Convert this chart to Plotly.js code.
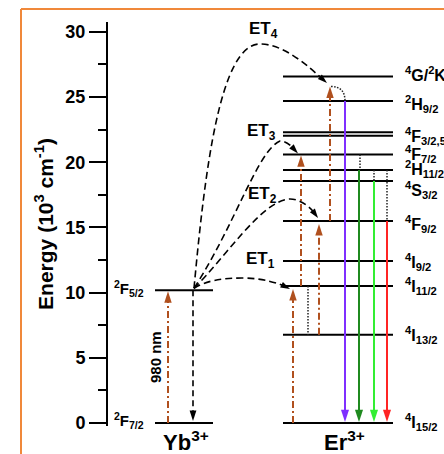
<!DOCTYPE html>
<html><head><meta charset="utf-8">
<script src="https://cdn.plot.ly/plotly-3.0.1.min.js"></script>
<style>html,body{margin:0;padding:0;background:#fff}#chart{width:444px;height:454px}</style>
</head><body><div id="chart"></div>
<script>
// ---------------- data (energies in 10^3 cm^-1) ----------------
const ybNames  = ['2F7/2', '2F5/2'];
const ybEnergy = [0, 10.18];
const ybLabels = ['<sup>2</sup>F<sub>7/2</sub>', '<sup>2</sup>F<sub>5/2</sub>'];

const erNames  = ['4I15/2','4I13/2','4I11/2','4I9/2','4F9/2','4S3/2','2H11/2','4F7/2','4F5/2','4F3/2','2H9/2','4G/2K'];
const erEnergy = [0, 6.77, 10.5, 12.42, 15.49, 18.56, 19.4, 20.6, 22.03, 22.29, 24.69, 26.57];
const erLabels = ['<sup>4</sup>I<sub>15/2</sub>','<sup>4</sup>I<sub>13/2</sub>','<sup>4</sup>I<sub>11/2</sub>',
  '<sup>4</sup>I<sub>9/2</sub>','<sup>4</sup>F<sub>9/2</sub>','<sup>4</sup>S<sub>3/2</sub>','<sup>2</sup>H<sub>11/2</sub>',
  '<sup>4</sup>F<sub>7/2</sub>','','<sup>4</sup>F<sub>3/2,5/2</sub>','<sup>2</sup>H<sub>9/2</sub>','<sup>4</sup>G/<sup>2</sup>K'];

const yTicks = [0, 5, 10, 15, 20, 25, 30];

const erPumps    = [['4I15/2','4I11/2'], ['4I11/2','4F7/2'], ['4I13/2','4F9/2'], ['4F9/2','4G/2K']];
const emissions  = [['2H9/2','4I15/2'], ['2H11/2','4I15/2'], ['4S3/2','4I15/2'], ['4F9/2','4I15/2']];
const nonRad     = [['4I11/2','4I13/2'], ['4F7/2','2H11/2'], ['2H11/2','4S3/2'], ['2H11/2','4F9/2']];
const etNames    = ['ET<sub>1</sub>','ET<sub>2</sub>','ET<sub>3</sub>','ET<sub>4</sub>'];
const etTargets  = ['4I11/2','4F9/2','4F7/2','4G/2K'];
const ionNames   = ['Yb<sup>3+</sup>', 'Er<sup>3+</sup>'];
const pumpLabel  = '980 nm';
const axisTitle  = 'Energy (10<sup>3</sup> cm<sup>-1</sup>)';

// ---------------- layout geometry (pixels) ----------------
const Y0 = 423, K = 13.04;                 // pixel row of 0, pixels per unit
const E = py => (Y0 - py) / K;             // pixel -> energy
const P = e => Y0 - e * K;                 // energy -> pixel
const ML = 108, MT = 22, MB = 28, W = 444, H = 454;
const paperX = px => (px - ML) / (W - ML);
const paperY = py => (H - MB - py) / (H - MB - MT);
const er = n => erEnergy[erNames.indexOf(n)];
const yb = n => ybEnergy[ybNames.indexOf(n)];

const ybX = [155, 213], erX = [283, 393];
const BROWN = '#b0501e';
const pumpX = [293, 301, 319, 330], pumpGap = [3, 1, 3, 10];
const emisX = [345, 359, 374, 387];
const emisColors = ['#7f2fff', '#1f8a1f', '#33ee33', '#ff2424'];
const nonRadX = [308, 360, 374, 387];
const labelShift = [1, 0, 0, -1, -3, -9, 1, 0, 0, -1.5, -2.5, 2.5];
const etGeom = [
  {c1:[205,281], c2:[222,278], m:[242,278], c3:[262,278], c4:[278,283], ex:290, gap:3},
  {c1:[225,258], c2:[262,200], m:[290,199], c3:[300,199], c4:[310,207], ex:318, gap:-3},
  {c1:[235,225], c2:[258,150], m:[280,141], c3:[287,141], c4:[292,147], ex:298, gap:-1},
  {c1:[205,170], c2:[220, 44], m:[260, 44], c3:[285, 44], c4:[310, 68], ex:327, gap:6.5}
];
const etLabelPos = [[260,260],[262,195],[261,132],[263,30]];
const ionLabelPos = [[186,441],[344,441]];
const etStart = [194, P(yb('2F5/2')) - 2];

const FONT = 'Liberation Sans, Arial, Helvetica, sans-serif';
const traces = [], shapes = [], ann = [];

function levelTrace(xr, energies){
  const x = [], y = [];
  energies.forEach(e => { x.push(xr[0], xr[1], null); y.push(e, e, null); });
  return {x, y, mode:'lines', line:{color:'#000', width:2}, hoverinfo:'skip', showlegend:false};
}
traces.push(levelTrace(ybX, ybEnergy));
traces.push(levelTrace(erX, erEnergy));

function arrowHeads(xs, ys, angles, color, size){
  return {x:xs, y:ys, mode:'markers', hoverinfo:'skip', showlegend:false,
    marker:{symbol:'arrow', size:size, angle:angles, color:color, line:{width:0}}};
}

// 980 nm pump (Yb)
{
  const x0 = 168, tip = yb('2F5/2');
  traces.push({x:[x0,x0], y:[0, E(P(tip)+8)], mode:'lines', line:{color:BROWN, width:2, dash:'7px,3px,2px,3px'}, showlegend:false, hoverinfo:'skip'});
  traces.push(arrowHeads([x0],[E(P(tip)+1)],[0],BROWN,12));
}
// Yb decay
{
  const x0 = 193, top = yb('2F5/2');
  traces.push({x:[x0,x0], y:[top, E(P(0)-9)], mode:'lines', line:{color:'#000', width:1.6, dash:'6px,4px'}, showlegend:false, hoverinfo:'skip'});
  traces.push(arrowHeads([x0],[E(P(0)-2)],[180],'#000',11));
}
// Er pumps
{
  const hx = [], hy = [], ha = [];
  erPumps.forEach((p, i) => {
    const from = er(p[0]), tipPx = P(er(p[1])) + pumpGap[i];
    traces.push({x:[pumpX[i],pumpX[i]], y:[from, E(tipPx+8)], mode:'lines', line:{color:BROWN, width:2, dash:'7px,3px,2px,3px'}, showlegend:false, hoverinfo:'skip'});
    hx.push(pumpX[i]); hy.push(E(tipPx)); ha.push(0);
  });
  traces.push(arrowHeads(hx, hy, ha, BROWN, 12));
}
// non-radiative (dotted)
{
  const x = [], y = [];
  nonRad.forEach((p, i) => { x.push(nonRadX[i], nonRadX[i], null); y.push(er(p[0]), er(p[1]), null); });
  traces.push({x, y, mode:'lines', line:{color:'#222', width:1.5, dash:'1.5px,1.5px'}, showlegend:false, hoverinfo:'skip'});
}
// emissions
{
  const hx = [], hy = [], ha = [];
  emissions.forEach((p, i) => {
    traces.push({x:[emisX[i],emisX[i]], y:[er(p[0]), E(P(er(p[1]))-8)], mode:'lines', line:{color:emisColors[i], width:2}, showlegend:false, hoverinfo:'skip'});
    hx.push(emisX[i]); hy.push(E(P(er(p[1]))-1)); ha.push(180);
  });
  traces.push(arrowHeads(hx, hy, ha, emisColors, 13));
}
// ET curves
{
  const hx = [], hy = [], ha = [];
  etGeom.forEach((g, i) => {
    const ey = P(er(etTargets[i])) + g.gap;
    const pt = (px, py) => px + ',' + E(py);
    const path = 'M' + pt(etStart[0], etStart[1]) +
      ' C' + pt(g.c1[0], g.c1[1]) + ' ' + pt(g.c2[0], g.c2[1]) + ' ' + pt(g.m[0], g.m[1]) +
      ' C' + pt(g.c3[0], g.c3[1]) + ' ' + pt(g.c4[0], g.c4[1]) + ' ' + pt(g.ex - 4, ey - 4*(ey-g.c4[1])/(g.ex-g.c4[0]));
    shapes.push({type:'path', xref:'x', yref:'y', path, line:{color:'#000', width:1.6, dash:'7px,4px'}});
    const dx = g.ex - g.c4[0], dy = ey - g.c4[1];
    hx.push(g.ex); hy.push(E(ey)); ha.push(Math.atan2(dx, -dy) * 180 / Math.PI);
    ann.push({x:etLabelPos[i][0], y:E(etLabelPos[i][1]), xref:'x', yref:'y', text:etNames[i], showarrow:false,
      font:{family:FONT, size:17, color:'#000', weight:'bold'}});
  });
  traces.push(arrowHeads(hx, hy, ha, '#000', 10));
}
// dotted arc from ET4 pump tip to 2H9/2
{
  const tipPx = P(er('4G/2K')) + pumpGap[3];
  const endPx = P(er('2H9/2'));
  shapes.push({type:'path', xref:'x', yref:'y',
    path:'M331,' + E(tipPx) + ' Q' + emisX[0] + ',' + E(tipPx) + ' ' + emisX[0] + ',' + E(endPx),
    line:{color:'#222', width:1.5, dash:'1.5px,1.5px'}});
}
// frame (orange)
shapes.push({type:'line', xref:'paper', yref:'paper', x0:paperX(21), x1:paperX(446), y0:paperY(9), y1:paperY(9), line:{color:'#f0883a', width:2}});
shapes.push({type:'line', xref:'paper', yref:'paper', x0:paperX(21), x1:paperX(21), y0:paperY(9), y1:paperY(456), line:{color:'#f0883a', width:2}});

// level labels
erLabels.forEach((t, i) => {
  if(!t) return;
  let y = erEnergy[i];
  if(erNames[i] === '4F3/2') y = (er('4F3/2') + er('4F5/2')) / 2;
  ann.push({x:403, y, xref:'x', yref:'y', xanchor:'left', yanchor:'middle', yshift:labelShift[i], text:t, showarrow:false,
    font:{family:FONT, size:16, color:'#000', weight:'bold'}});
});
const ybShift = [3, 1.5];
ybLabels.forEach((t, i) => {
  ann.push({x:112, y:ybEnergy[i], xref:'x', yref:'y', xanchor:'left', yanchor:'middle', yshift:ybShift[i], text:t, showarrow:false,
    font:{family:FONT, size:15, color:'#000', weight:'bold'}});
});
ann.push({x:155, y:E(357), xref:'x', yref:'y', text:pumpLabel, textangle:-90, showarrow:false,
  font:{family:FONT, size:15, color:'#000', weight:'bold'}});
ionNames.forEach((t, i) => {
  ann.push({x:paperX(ionLabelPos[i][0]), y:paperY(ionLabelPos[i][1]), xref:'paper', yref:'paper', text:t, showarrow:false,
    xanchor:'center', yanchor:'middle', font:{family:FONT, size:22, color:'#000', weight:'bold'}});
});

const layout = {
  width:W, height:H, margin:{l:ML, r:0, t:MT, b:MB, pad:0},
  paper_bgcolor:'#fff', plot_bgcolor:'rgba(0,0,0,0)', showlegend:false,
  xaxis:{range:[ML, W], visible:false, fixedrange:true},
  yaxis:{range:[E(H-MB), E(MT)], showgrid:false, zeroline:false, showline:true, linecolor:'#000', linewidth:2,
    ticks:'outside', ticklen:17, tickwidth:2, tickcolor:'#000', tickvals:yTicks, ticktext:yTicks.map(String),
    tickfont:{family:FONT, size:18, color:'#000', weight:'bold'},
    minor:{dtick:2.5, ticks:'outside', ticklen:8, tickwidth:2, tickcolor:'#000'},
    title:{text:axisTitle, font:{family:FONT, size:21, color:'#000', weight:'bold'}, standoff:6},
    automargin:false, fixedrange:true},
  shapes, annotations:ann
};
Plotly.newPlot('chart', traces, layout, {staticPlot:true, displayModeBar:false});
</script></body></html>
